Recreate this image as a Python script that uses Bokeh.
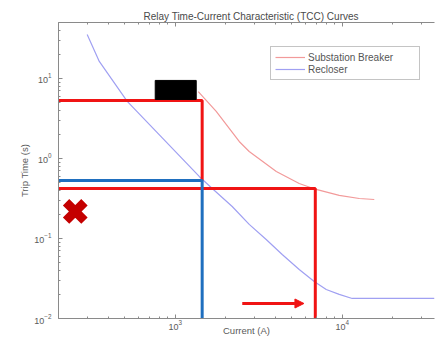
from bokeh.plotting import figure
from bokeh.models import FixedTicker, LogAxis, Range1d, Legend, LegendItem, Arrow, NormalHead, Title
from bokeh.embed import file_html
from bokeh.resources import INLINE

# ---- data ----
recloser_current = [297, 351, 516, 1392, 1666, 2194, 2774, 3506, 4372, 5527, 6797, 8022, 9593, 11480, 35700]
recloser_time = [35.5, 16.3, 5.16, 0.596, 0.422, 0.251, 0.150, 0.0972, 0.0631, 0.041, 0.029, 0.023, 0.020, 0.0178, 0.0178]

breaker_current = [1374, 1760, 2416, 2773, 4030, 5527, 6982, 9593, 12650, 15560]
breaker_time = [6.85, 3.87, 1.63, 1.22, 0.688, 0.487, 0.410, 0.345, 0.316, 0.307]

x_min, x_max = 200, 35700
y_min, y_max = 0.01, 50

# annotation values (current in A, time in s)
upper_red_time = 5.3
red_pickup_current = 1450
blue_time = 0.53
blue_current = 1450
lower_red_time = 0.42
lower_red_current = 6900
arrow_current = [2520, 5900]
arrow_time = 0.0154
cross_current = 252
cross_time = 0.2175
box_current = [759, 1336]
box_time = [5.46, 9.44]

x_major = [1e3, 1e4]
x_minor = [m * 10 ** e for e in (2, 3, 4) for m in range(2, 10) if x_min <= m * 10 ** e <= x_max]
y_major = [1e-2, 1e-1, 1, 10]
y_minor = [m * 10 ** e for e in (-2, -1, 0, 1) for m in range(2, 10) if m * 10 ** e <= y_max]

FONT = "Liberation Sans"
AXIS_COLOR = "#8a8a8a"
TEXT_COLOR = "#5a5a5a"

p = figure(width=435, height=338, x_axis_type="log", y_axis_type="log",
           x_range=Range1d(x_min, x_max), y_range=Range1d(y_min, y_max),
           output_backend="svg", toolbar_location=None,
           min_border_left=58, min_border_right=1, min_border_top=22, min_border_bottom=20)
p.outline_line_color = None
p.grid.visible = False
p.background_fill_color = "white"
p.border_fill_color = "white"

p.title = Title(text="Relay Time-Current Characteristic (TCC) Curves", align="left", offset=85,
                standoff=2, text_font=FONT, text_font_size="10px", text_font_style="normal",
                text_color="#4a4a4a")

def style_axis(ax, major, minor):
    ax.ticker = FixedTicker(ticks=major, minor_ticks=minor)
    ax.axis_line_color = AXIS_COLOR
    ax.major_tick_line_color = AXIS_COLOR
    ax.minor_tick_line_color = AXIS_COLOR
    ax.major_tick_in = 4
    ax.major_tick_out = 0
    ax.minor_tick_in = 2
    ax.minor_tick_out = 0
    ax.major_label_text_font = FONT
    ax.major_label_text_font_size = "9px"
    ax.major_label_text_color = TEXT_COLOR
    ax.axis_label_text_font = FONT
    ax.axis_label_text_font_size = "9.5px"
    ax.axis_label_text_font_style = "normal"
    ax.axis_label_text_color = TEXT_COLOR

xa = p.xaxis[0]
style_axis(xa, x_major, x_minor)
xa.axis_label = "Current (A)"
xa.major_label_standoff = 1
xa.axis_label_standoff = -8

ya = p.yaxis[0]
style_axis(ya, y_major, y_minor)
ya.axis_label = "Trip Time (s)"
ya.major_label_standoff = 7
ya.axis_label_standoff = 1

top = LogAxis()
style_axis(top, x_major, x_minor)
top.major_label_text_font_size = "1px"
top.major_label_text_color = None
top.major_label_standoff = 0
p.add_layout(top, "above")

# curves
r_brk = p.line(breaker_current, breaker_time, line_color="#f29a9a", line_width=1.2)
r_rec = p.line(recloser_current, recloser_time, line_color="#a0a0f2", line_width=1.2)

# annotations
red = "#f01414"
blue = "#1f6fbf"
p.line([x_min, red_pickup_current, red_pickup_current], [upper_red_time, upper_red_time, blue_time],
       line_color=red, line_width=3)
p.line([x_min, lower_red_current, lower_red_current], [lower_red_time, lower_red_time, y_min],
       line_color=red, line_width=3)
p.line([x_min, blue_current, blue_current], [blue_time, blue_time, y_min],
       line_color=blue, line_width=3)
p.quad(left=[box_current[0]], right=[box_current[1]], bottom=[box_time[0]], top=[box_time[1]],
       fill_color="black", line_color="black")
p.scatter([cross_current], [cross_time], marker="x", size=26, line_width=9, line_color="#c40000")
p.add_layout(Arrow(end=NormalHead(size=9, fill_color=red, line_color=red),
                   x_start=arrow_current[0], y_start=arrow_time,
                   x_end=arrow_current[1], y_end=arrow_time,
                   line_color=red, line_width=3))

legend = Legend(items=[LegendItem(label="Substation Breaker", renderers=[r_brk]),
                       LegendItem(label="Recloser", renderers=[r_rec])],
                location=(212, 238))
legend.label_text_font = FONT
legend.label_text_font_size = "10px"
legend.label_text_color = "#555555"
legend.glyph_width = 30
legend.glyph_height = 12
legend.label_height = 12
legend.label_width = 107
legend.label_standoff = 3
legend.padding = 4
legend.spacing = 0
legend.margin = 0
legend.border_line_color = AXIS_COLOR
legend.border_line_width = 1
legend.background_fill_color = "white"
p.add_layout(legend, "center")

open("out.html", "w").write(file_html(p, INLINE))
